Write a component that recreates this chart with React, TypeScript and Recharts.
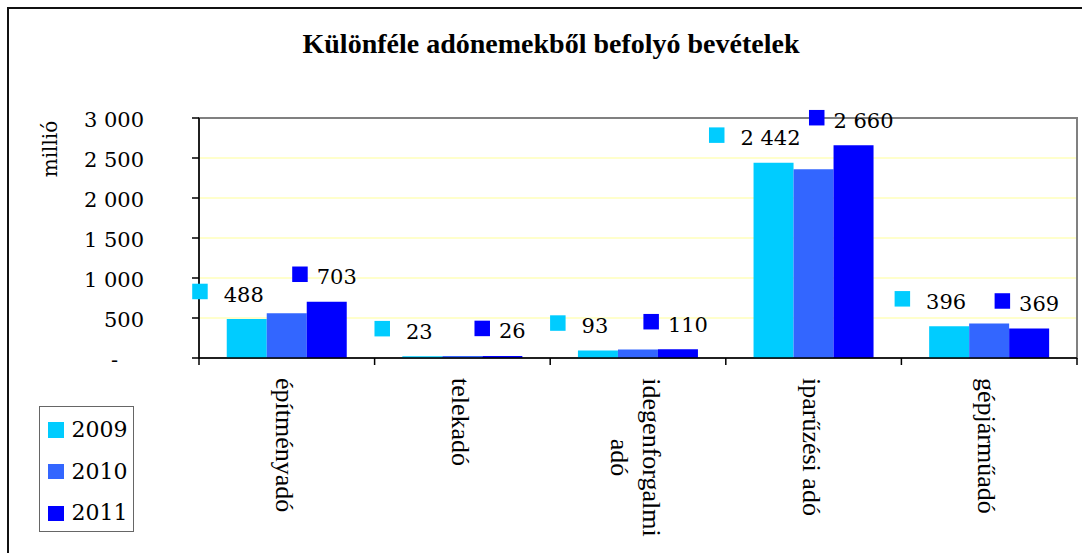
import React from 'react';
import {
  BarChart, Bar, XAxis, YAxis, CartesianGrid, ReferenceArea, LabelList, Legend,
} from 'recharts';

const categories = ['építményadó', 'telekadó', 'idegenforgalmi adó', 'iparűzési adó', 'gépjárműadó'];
const years = ['2009', '2010', '2011'];
const values2009 = [488, 23, 93, 2442, 396];
const values2010 = [560, 25, 105, 2360, 430];
const values2011 = [703, 26, 110, 2660, 369];
const yTicks = [0, 500, 1000, 1500, 2000, 2500, 3000];
const colors = ['#00CCFF', '#3366FF', '#0000FF'];
const title = 'Különféle adónemekből befolyó bevételek';
const yLabel = 'millió';

const data = categories.map((c, i) => ({
  name: c,
  y2009: values2009[i],
  y2010: values2010[i],
  y2011: values2011[i],
}));

const NUM_FONT = '"DejaVu Serif", serif';
const CAT_FONT = '"Liberation Serif", "Times New Roman", serif';

const fmt = (v: number) => String(v).replace(/\B(?=(\d{3})+(?!\d))/g, ' ');
const textW = (t: string) => {
  let w = 0;
  for (const ch of t) w += ch === ' ' ? 6.68 : 13.36;
  return w;
};

const makeLabel = (textShift: number, markerGap: number, color: string) => (props: any) => {
  const x = Number(props.x);
  const y = Number(props.y);
  const width = Number(props.width);
  const t = fmt(Number(props.value));
  const tw = textW(t);
  const cx = x + width / 2;
  const tc = cx + textShift;
  const tl = tc - tw / 2;
  const ms = 15.5;
  return (
    <g>
      <rect x={tl - markerGap - ms} y={y - 27.5 - ms / 2} width={ms} height={ms} fill={color} />
      <text x={tc} y={y - 25} dy="0.36em" textAnchor="middle" fontFamily={NUM_FONT} fontSize={21} fill="#000">
        {t}
      </text>
    </g>
  );
};

const Label2009 = makeLabel(-3, 16, colors[0]);
const Label2011 = makeLabel(10, 9, colors[2]);

const YTick = (props: any) => {
  const { x, y, payload } = props;
  const v = Number(payload.value);
  const isZero = v === 0;
  return (
    <text
      x={isZero ? x - 26 : x}
      y={y}
      dy="0.42em"
      textAnchor="end"
      fontFamily={NUM_FONT}
      fontSize={21}
      fill="#000"
    >
      {isZero ? '-' : fmt(v)}
    </text>
  );
};

const XTick = (props: any) => {
  const { x, y, payload, index } = props;
  const half = payload && payload.offset ? payload.offset : 87.8;
  const label: string = String(payload.value);
  let lines = [label];
  if (label.length > 15 && label.lastIndexOf(' ') > 0) {
    const k = label.lastIndexOf(' ');
    lines = [label.slice(0, k), label.slice(k + 1)];
  }
  const fs = 26;
  const lineH = 31.5;
  const startY = y + 20;
  const cx = x - 3;
  const maxLen = Math.max(...lines.map((l) => l.length)) * 0.437 * fs;
  const n = lines.length;
  return (
    <g>
      <line x1={x - half} x2={x - half} y1={y} y2={y + 7} stroke="#000" strokeWidth={1.5} />
      {index === categories.length - 1 && (
        <line x1={x + half} x2={x + half} y1={y} y2={y + 7} stroke="#000" strokeWidth={1.5} />
      )}
      {lines.map((l, i) => {
        const off = (i - (n - 1) / 2) * lineH;
        return n === 1 ? (
          <text
            key={i}
            transform={`translate(${cx},${startY}) rotate(90)`}
            dy="0.3em"
            textAnchor="start"
            fontFamily={CAT_FONT}
            fontSize={fs}
            fill="#000"
          >
            {l}
          </text>
        ) : (
          <text
            key={i}
            transform={`translate(${cx - off},${startY + maxLen / 2}) rotate(90)`}
            dy="0.3em"
            textAnchor="middle"
            fontFamily={CAT_FONT}
            fontSize={fs}
            fill="#000"
          >
            {l}
          </text>
        );
      })}
    </g>
  );
};

const YLabel = () => (
  <text
    transform="translate(50,149) rotate(-90)"
    textAnchor="middle"
    dy="0.35em"
    fontFamily={NUM_FONT}
    fontSize={20}
    fill="#000"
  >
    {yLabel}
  </text>
);

const LegendBox = () => (
  <div
    style={{
      position: 'absolute',
      left: 0,
      top: 0,
      width: 95,
      height: 126,
      border: '1px solid #666',
      boxSizing: 'border-box',
      background: '#fff',
    }}
  >
    {years.map((yr, i) => (
      <div
        key={yr}
        style={{
          position: 'absolute',
          left: 8,
          top: 15 + i * 41.7,
          height: 16,
          display: 'flex',
          alignItems: 'center',
        }}
      >
        <span style={{ display: 'inline-block', width: 15.5, height: 15.5, background: colors[i] }} />
        <span
          style={{
            marginLeft: 8,
            fontFamily: NUM_FONT,
            fontSize: 22,
            lineHeight: '16px',
            color: '#000',
            whiteSpace: 'nowrap',
          }}
        >
          {yr}
        </span>
      </div>
    ))}
  </div>
);

export default function App() {
  return (
    <div
      style={{
        position: 'absolute',
        left: 0,
        top: 0,
        width: 1082,
        height: 553,
        overflow: 'hidden',
        background: '#fff',
      }}
    >
      <div
        style={{
          position: 'absolute',
          left: 7,
          top: 7,
          width: 1120,
          height: 600,
          border: '2px solid #111',
          boxSizing: 'border-box',
        }}
      />
      <div
        style={{
          position: 'absolute',
          left: 0,
          top: 30,
          width: 1102,
          textAlign: 'center',
          fontFamily: CAT_FONT,
          fontWeight: 'bold',
          fontSize: 28,
          lineHeight: '28px',
          color: '#000',
          whiteSpace: 'nowrap',
        }}
      >
        {title}
      </div>
      <div style={{ position: 'absolute', left: 0, top: 0 }}>
        <BarChart
          width={1082}
          height={553}
          data={data}
          margin={{ top: 118, right: 5, bottom: 0, left: 0 }}
          barCategoryGap="15.8%"
          barGap={0}
        >
          <CartesianGrid vertical={false} stroke="#FFFF99" strokeWidth={1} />
          <ReferenceArea y1={0} y2={3000} fill="none" fillOpacity={0} stroke="#808080" strokeWidth={2} ifOverflow="visible" />
          <XAxis
            dataKey="name"
            height={195}
            tickSize={0}
            tickMargin={0}
            tickLine={false}
            interval={0}
            axisLine={{ stroke: '#000', strokeWidth: 1.5 }}
            tick={<XTick />}
          />
          <YAxis
            type="number"
            domain={[0, 3000]}
            ticks={yTicks}
            width={199}
            tickSize={7}
            tickMargin={48}
            axisLine={{ stroke: '#000', strokeWidth: 1.5 }}
            tickLine={{ stroke: '#000', strokeWidth: 1.5 }}
            tick={<YTick />}
            label={<YLabel />}
          />
          <Legend
            layout="horizontal"
            verticalAlign="middle"
            align="center"
            content={<LegendBox />}
            wrapperStyle={{ position: 'absolute', left: 39, top: 406, width: 95, height: 126 }}
          />
          <Bar dataKey="y2009" name={years[0]} fill={colors[0]} isAnimationActive={false}>
            <LabelList dataKey="y2009" content={<Label2009 />} />
          </Bar>
          <Bar dataKey="y2010" name={years[1]} fill={colors[1]} isAnimationActive={false} />
          <Bar dataKey="y2011" name={years[2]} fill={colors[2]} isAnimationActive={false}>
            <LabelList dataKey="y2011" content={<Label2011 />} />
          </Bar>
        </BarChart>
      </div>
    </div>
  );
}
